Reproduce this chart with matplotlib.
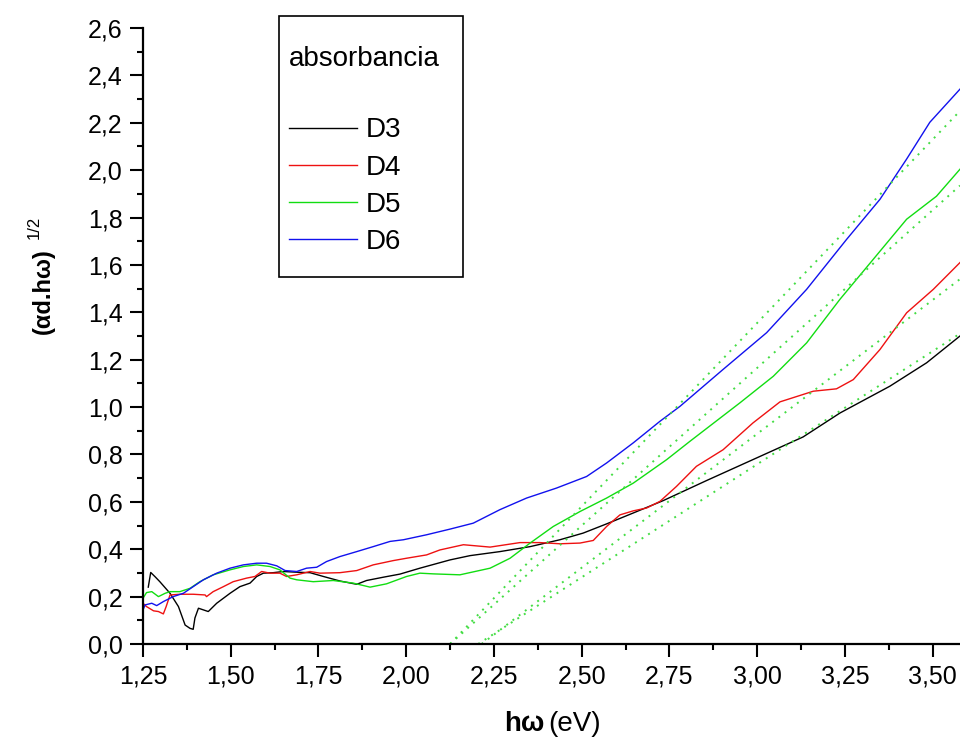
import matplotlib
matplotlib.use('Agg')
import matplotlib.pyplot as plt
from matplotlib.patches import Rectangle
from matplotlib.ticker import MultipleLocator, FuncFormatter

plt.rcParams['font.family'] = ['Liberation Sans', 'DejaVu Sans']

# photon energy (eV) and (alpha d h w)^1/2 for each sample
d3_x = [1.265, 1.272, 1.285, 1.298, 1.327, 1.351, 1.370, 1.384, 1.393, 1.398, 1.408,
        1.422, 1.436, 1.460, 1.498, 1.526, 1.555, 1.574, 1.593, 1.621, 1.650, 1.688,
        1.726, 1.764, 1.811, 1.859, 1.887, 1.935, 1.982, 2.039, 2.125, 2.182, 2.267,
        2.353, 2.438, 2.504, 2.571, 2.647, 2.732, 2.856, 2.998, 3.131, 3.236, 3.378,
        3.483, 3.578]
d3_y = [0.24, 0.302, 0.283, 0.263, 0.214, 0.158, 0.080, 0.066, 0.062, 0.11, 0.151,
        0.144, 0.137, 0.172, 0.214, 0.242, 0.257, 0.285, 0.299, 0.301, 0.306, 0.303,
        0.301, 0.285, 0.266, 0.252, 0.268, 0.282, 0.295, 0.32, 0.355, 0.373, 0.39,
        0.411, 0.44, 0.468, 0.507, 0.553, 0.605, 0.69, 0.785, 0.874, 0.975, 1.088,
        1.187, 1.30]

d4_x = [1.25, 1.26, 1.28, 1.294, 1.308, 1.316, 1.327, 1.355, 1.393, 1.427, 1.431,
        1.45, 1.479, 1.507, 1.545, 1.569, 1.588, 1.612, 1.64, 1.659, 1.688, 1.726,
        1.754, 1.811, 1.859, 1.906, 1.963, 2.001, 2.058, 2.096, 2.163, 2.239, 2.324,
        2.381, 2.438, 2.495, 2.533, 2.571, 2.609, 2.647, 2.685, 2.723, 2.77, 2.827,
        2.903, 2.988, 3.065, 3.16, 3.226, 3.274, 3.35, 3.426, 3.502, 3.578]
d4_y = [0.172, 0.158, 0.14, 0.137, 0.127, 0.158, 0.207, 0.21, 0.21, 0.207, 0.2,
        0.221, 0.242, 0.263, 0.278, 0.285, 0.306, 0.299, 0.299, 0.285, 0.292, 0.306,
        0.299, 0.301, 0.31, 0.334, 0.352, 0.362, 0.376, 0.397, 0.419, 0.409, 0.428,
        0.428, 0.423, 0.426, 0.437, 0.496, 0.545, 0.562, 0.574, 0.602, 0.665, 0.75,
        0.82, 0.933, 1.022, 1.067, 1.077, 1.116, 1.243, 1.398, 1.497, 1.61]

d5_x = [1.25, 1.26, 1.275, 1.294, 1.313, 1.327, 1.355, 1.384, 1.412, 1.45, 1.498,
        1.536, 1.574, 1.612, 1.64, 1.669, 1.688, 1.735, 1.792, 1.849, 1.897, 1.944,
        2.001, 2.039, 2.077, 2.153, 2.239, 2.296, 2.353, 2.419, 2.495, 2.571, 2.647,
        2.742, 2.808, 2.951, 3.046, 3.141, 3.236, 3.331, 3.426, 3.511, 3.578]
d5_y = [0.193, 0.217, 0.221, 0.2, 0.214, 0.221, 0.221, 0.235, 0.263, 0.292, 0.313,
        0.327, 0.334, 0.327, 0.313, 0.278, 0.271, 0.263, 0.268, 0.257, 0.24, 0.254,
        0.285, 0.299, 0.296, 0.292, 0.32, 0.362, 0.426, 0.496, 0.559, 0.616, 0.679,
        0.778, 0.855, 1.018, 1.13, 1.271, 1.455, 1.624, 1.793, 1.89, 2.004]

d6_x = [1.25, 1.256, 1.275, 1.289, 1.308, 1.336, 1.365, 1.393, 1.422, 1.46, 1.498,
        1.536, 1.574, 1.602, 1.631, 1.655, 1.688, 1.716, 1.745, 1.773, 1.811, 1.859,
        1.906, 1.954, 1.992, 2.058, 2.125, 2.191, 2.267, 2.343, 2.428, 2.514, 2.571,
        2.647, 2.723, 2.78, 2.903, 3.027, 3.141, 3.255, 3.35, 3.426, 3.492, 3.578]
d6_y = [0.144, 0.165, 0.172, 0.162, 0.179, 0.2, 0.214, 0.242, 0.271, 0.299, 0.32,
        0.334, 0.341, 0.341, 0.33, 0.31, 0.306, 0.32, 0.324, 0.348, 0.369, 0.39,
        0.411, 0.433, 0.44, 0.461, 0.485, 0.51, 0.567, 0.616, 0.658, 0.707, 0.764,
        0.849, 0.94, 1.003, 1.159, 1.314, 1.497, 1.708, 1.877, 2.047, 2.202, 2.342]

# linear fits used for the gap extrapolation (start on the x axis)
fit_x0 = [2.125, 2.125, 2.215, 2.205]
fit_x1 = [3.578, 3.578, 3.578, 3.578]
fit_y1 = [2.25, 1.935, 1.54, 1.31]

labels = ['D3', 'D4', 'D5', 'D6']
colors = ['#000000', '#ee1111', '#11dd11', '#1111ee']

W, H = 960, 738
fig = plt.figure(figsize=(9.6, 7.38), dpi=100)
ax = fig.add_axes([143 / W, 94 / H, 1 - 143 / W, (644 - 28) / H])

series = [(d3_x, d3_y), (d4_x, d4_y), (d5_x, d5_y), (d6_x, d6_y)]
for (xs, ys), lab, col in zip(series, labels, colors):
    ax.plot(xs, ys, color=col, lw=1.0, label=lab)

for x0, x1, y1 in zip(fit_x0, fit_x1, fit_y1):
    ax.plot([x0, x1], [0, y1], color='#44dd44', lw=1.4, ls=(0, (1, 3)))

ax.set_xlim(1.25, 3.578)
ax.set_ylim(0, 2.6)
ax.spines['top'].set_visible(False)
ax.spines['right'].set_visible(False)
for s in ('left', 'bottom'):
    ax.spines[s].set_linewidth(1.6)

ax.xaxis.set_major_locator(MultipleLocator(0.25))
ax.xaxis.set_minor_locator(MultipleLocator(0.125))
ax.yaxis.set_major_locator(MultipleLocator(0.2))
ax.yaxis.set_minor_locator(MultipleLocator(0.1))
ax.xaxis.set_major_formatter(FuncFormatter(lambda v, p: f'{v:.2f}'.replace('.', ',')))
ax.yaxis.set_major_formatter(FuncFormatter(lambda v, p: f'{v:.1f}'.replace('.', ',')))
ax.tick_params(which='major', direction='out', length=9.5, width=1.5, labelsize=18, pad=5)
ax.tick_params(which='minor', direction='out', length=4.5, width=1.5)

# axis titles
fig.text(43 / W, 1 - 291 / H, '(αd.hω)', rotation=90, ha='center', va='center',
         fontsize=17, fontweight='bold')
fig.text(34 / W, 1 - 227 / H, '1/2', rotation=90, ha='center', va='center', fontsize=12)
fig.text(544 / W, 1 - 731 / H, 'hω', ha='right', va='baseline', fontsize=20,
         fontweight='bold')
fig.text(548 / W, 1 - 731 / H, '(eV)', ha='left', va='baseline', fontsize=20)

# legend: drawn without its own frame, box added separately
leg = ax.legend(title='absorbancia\n', loc='upper left', alignment='left',
                bbox_to_anchor=(275 / W, 1 - 32 / H), bbox_transform=fig.transFigure,
                fontsize=20, title_fontsize=20, frameon=False,
                handlelength=2.45, handletextpad=0.32, labelspacing=0.4,
                borderpad=0.5, borderaxespad=0)
leg.get_title().set_linespacing(1.42)
fig.add_artist(Rectangle((279 / W, 1 - 277 / H), (463 - 279) / W, (277 - 16) / H,
                         transform=fig.transFigure, fill=False, ec='black', lw=1.2))

fig.savefig('out.png', dpi=100)
